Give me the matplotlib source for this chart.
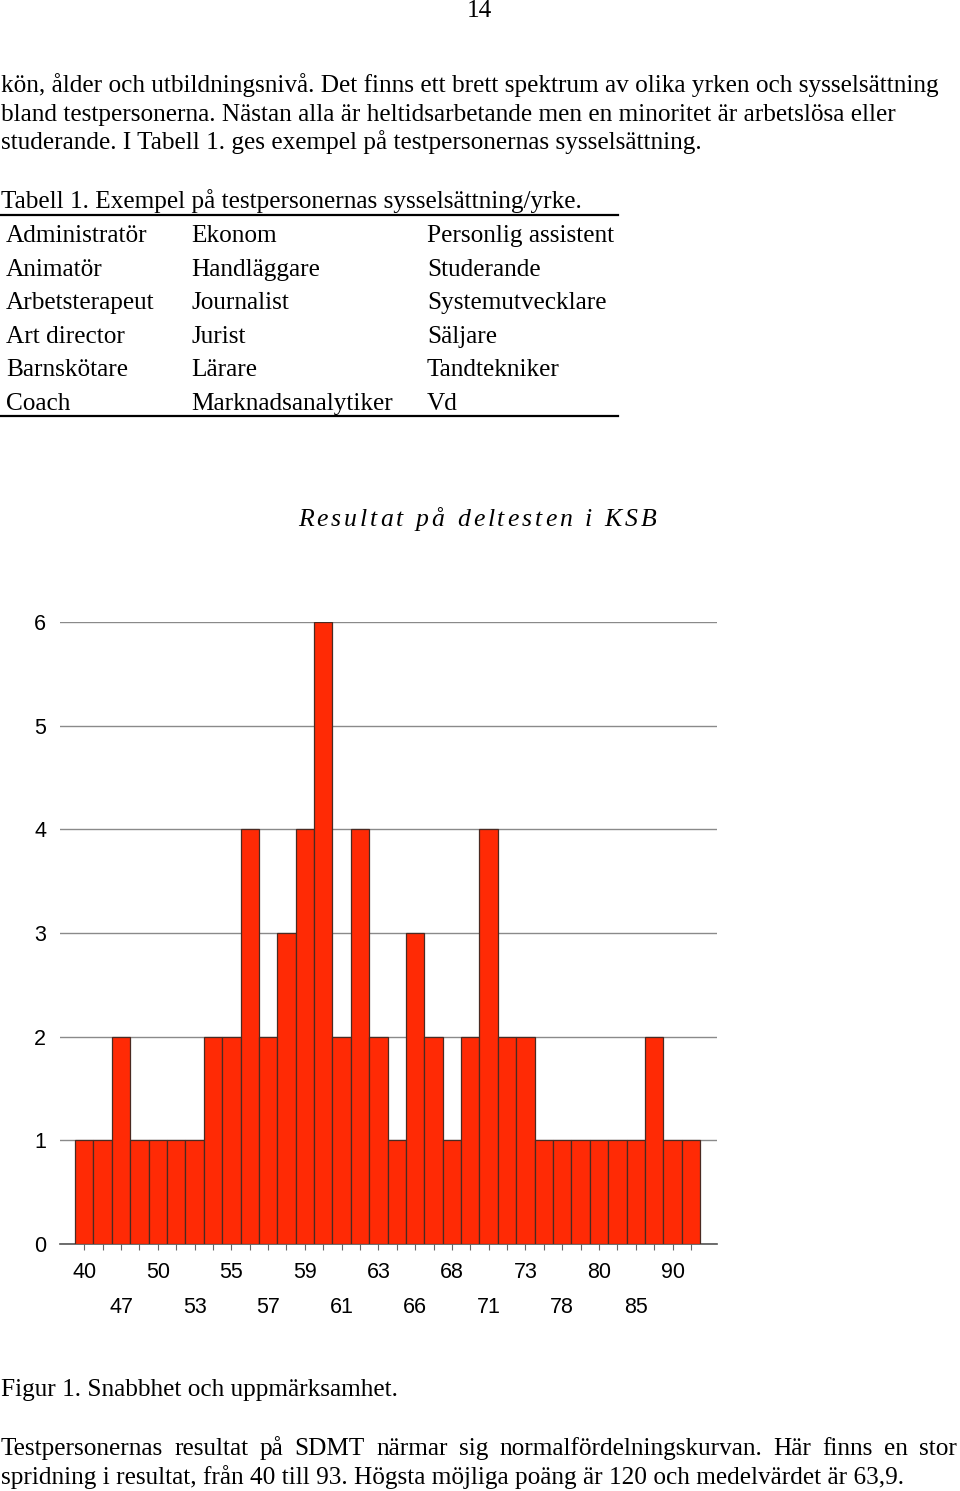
import matplotlib
matplotlib.use('Agg')
import matplotlib.pyplot as plt
from matplotlib.lines import Line2D
from matplotlib.font_manager import FontProperties

W, H, DPI = 960, 1491, 100

# ---------------- data ----------------
scores = ['40', '44', '47', '49', '50', '52', '53', '54', '55', '56', '57', '58',
          '59', '60', '61', '62', '63', '64', '66', '67', '68', '69', '71', '72',
          '73', '75', '78', '79', '80', '82', '85', '87', '90', '93']
counts = [1, 1, 2, 1, 1, 1, 1, 2, 2, 4, 2, 3, 4, 6, 2, 4, 2, 1, 3, 2, 1, 2, 4, 2,
          2, 1, 1, 1, 1, 1, 1, 2, 1, 1]
y_ticks = [0, 1, 2, 3, 4, 5, 6]

chart_title = 'Resultat på deltesten i KSB'
page_number = '14'
intro_lines = [
    'kön, ålder och utbildningsnivå. Det finns ett brett spektrum av olika yrken och sysselsättning',
    'bland testpersonerna. Nästan alla är heltidsarbetande men en minoritet är arbetslösa eller',
    'studerande. I Tabell 1. ges exempel på testpersonernas sysselsättning.',
]
table_caption = 'Tabell 1. Exempel på testpersonernas sysselsättning/yrke.'
table_col1 = ['Administratör', 'Animatör', 'Arbetsterapeut', 'Art director', 'Barnskötare', 'Coach']
table_col2 = ['Ekonom', 'Handläggare', 'Journalist', 'Jurist', 'Lärare', 'Marknadsanalytiker']
table_col3 = ['Personlig assistent', 'Studerande', 'Systemutvecklare', 'Säljare', 'Tandtekniker', 'Vd']
figure_caption = 'Figur 1. Snabbhet och uppmärksamhet.'
outro_line1 = 'Testpersonernas resultat på SDMT närmar sig normalfördelningskurvan. Här finns en stor'
outro_line2 = 'spridning i resultat, från 40 till 93. Högsta möjliga poäng är 120 och medelvärdet är 63,9.'

# ---------------- figure ----------------
fig = plt.figure(figsize=(W / DPI, H / DPI), dpi=DPI)
fig.patch.set_facecolor('white')

SERIF = 'Liberation Serif'
SANS = 'Liberation Sans'
BODY = 18.2


def fx(x):
    return x / W


def fy(y):
    return 1 - y / H


def ptext(x, y, s, size=BODY, **kw):
    fig.text(fx(x), fy(y), s, fontsize=size, family=SERIF, va='baseline', **kw)


renderer = fig.canvas.get_renderer()

# page number
ptext(479, 17, page_number, size=BODY, ha='center')

# intro paragraph
for i, line in enumerate(intro_lines):
    ptext(1, 92 + i * 28.6, line)

# table
ptext(1, 208, table_caption)
fig.add_artist(Line2D([fx(0), fx(618)], [fy(214.5), fy(214.5)], color='black', lw=1.6))
for r in range(len(table_col1)):
    yb = 242 + r * 33.6
    ptext(6, yb, table_col1[r])
    ptext(191, yb, table_col2[r])
    ptext(427, yb, table_col3[r])
fig.add_artist(Line2D([fx(0), fx(618)], [fy(416), fy(416)], color='black', lw=1.6))

# tracked italic chart title
tp = FontProperties(family=SERIF, style='italic', size=18.5)
tracking = 3.0
widths = [renderer.get_text_width_height_descent(c, tp, ismath=False)[0] for c in chart_title]
total = sum(widths) + tracking * (len(chart_title) - 1)
x = 477 - total / 2
for c, w in zip(chart_title, widths):
    fig.text(fx(x), fy(526), c, fontproperties=tp, va='baseline')
    x += w + tracking

# ---------------- chart ----------------
ax = fig.add_axes([fx(60), fy(1244), fx(717) - fx(60), fy(622) - fy(1244)])
pos = list(range(len(scores)))
ax.bar(pos, counts, width=1.0, color='#ff2a05', edgecolor='#4a2a22', linewidth=0.9, zorder=3)
ax.set_xlim(-1.32, len(scores) - 0.5 + 0.92)
ax.set_ylim(0, 6)
ax.set_yticks(y_ticks)
ax.set_yticklabels([str(t) for t in y_ticks], fontsize=15.5, family=SANS)
ax.yaxis.grid(True, color='#8a8a8a', lw=1.0, zorder=0)
ax.set_axisbelow(True)
for s in ['top', 'right', 'left']:
    ax.spines[s].set_visible(False)
ax.spines['bottom'].set_color('#555555')
ax.spines['bottom'].set_linewidth(1.2)
ax.tick_params(axis='y', length=0, pad=10)

labels = []
for i, s in enumerate(scores):
    if i % 2 == 1:
        labels.append('')
    elif (i // 2) % 2 == 0:
        labels.append(s)
    else:
        labels.append('\n' + s)
ax.set_xticks(pos)
ax.set_xticklabels(labels, fontsize=15.5, family=SANS)
for lbl in ax.get_xticklabels():
    lbl.set_linespacing(1.85)
ax.tick_params(axis='x', length=4, width=0.8, color='#666666', pad=9)

# caption and closing paragraph
ptext(1, 1396, figure_caption)
ptext(1, 1484, outro_line2)

bp = FontProperties(family=SERIF, size=BODY)
words = outro_line1.split(' ')
ww = [renderer.get_text_width_height_descent(w, bp, ismath=False)[0] for w in words]
gap = (957 - 1 - sum(ww)) / (len(words) - 1)
x = 1
for w, wd in zip(words, ww):
    fig.text(fx(x), fy(1455), w, fontproperties=bp, va='baseline')
    x += wd + gap

fig.savefig('out.png', dpi=DPI, facecolor='white')
